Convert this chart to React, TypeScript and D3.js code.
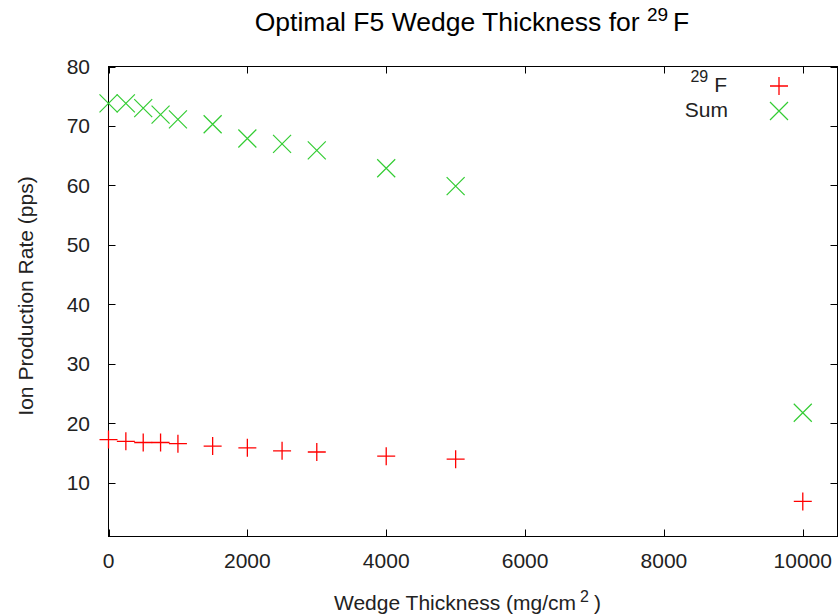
import React from 'react';
import * as d3 from 'd3';

const thickness = [0, 250, 500, 750, 1000, 1500, 2000, 2500, 3000, 4000, 5000, 10000];
const f29Rate = [17.3, 17.0, 16.8, 16.8, 16.6, 16.2, 15.9, 15.4, 15.2, 14.5, 14.0, 6.9];
const sumRate = [73.8, 73.8, 73.0, 71.9, 71.1, 70.3, 67.9, 67.0, 65.9, 62.9, 59.9, 21.8];
const xTicks = [0, 2000, 4000, 6000, 8000, 10000];
const yTicks = [10, 20, 30, 40, 50, 60, 70, 80];

const FONT = '"Liberation Sans", Arial, Helvetica, sans-serif';
const RED = '#ff0000';
const GREEN = '#33cc33';

export default function App() {
  const W = 839, H = 615;
  const left = 108.5, right = 837.5, top = 66.5, bottom = 536.5;
  const x = d3.scaleLinear().domain([0, 10500]).range([left, right]);
  const y = d3.scaleLinear().domain([1, 80]).range([bottom, top]);
  const tl = 7;
  const m = 9;

  const plus = (cx: number, cy: number, c: string, k: string) => (
    <path key={k} d={`M${cx - m},${cy}H${cx + m}M${cx},${cy - m}V${cy + m}`} stroke={c} strokeWidth={1.3} fill="none" />
  );
  const cross = (cx: number, cy: number, c: string, k: string) => (
    <path key={k} d={`M${cx - m},${cy - m}L${cx + m},${cy + m}M${cx - m},${cy + m}L${cx + m},${cy - m}`} stroke={c} strokeWidth={1.2} fill="none" />
  );

  return (
    <svg width={W} height={H} style={{ position: 'absolute', left: 0, top: 0, background: '#fff' }} fontFamily={FONT}>
      <rect x={0} y={0} width={W} height={H} fill="#fff" />
      {/* title */}
      <text x={472} y={31} textAnchor="middle" fontSize={26.5} fill="#000">
        Optimal F5 Wedge Thickness for <tspan fontSize={19} dy={-10}>29</tspan><tspan dy={10} dx={5}>F</tspan>
      </text>
      {/* ticks */}
      {yTicks.map(t => (
        <g key={'y' + t}>
          <line x1={left} x2={left + tl} y1={Math.round(y(t)) + 0.5} y2={Math.round(y(t)) + 0.5} stroke="#000" />
          <line x1={right} x2={right - tl} y1={Math.round(y(t)) + 0.5} y2={Math.round(y(t)) + 0.5} stroke="#000" />
          <text x={90} y={y(t) + 7.5} textAnchor="end" fontSize={21} fill="#222">{t}</text>
        </g>
      ))}
      {xTicks.map(t => (
        <g key={'x' + t}>
          <line x1={Math.round(x(t)) + 0.5} x2={Math.round(x(t)) + 0.5} y1={bottom} y2={bottom - tl} stroke="#000" />
          <line x1={Math.round(x(t)) + 0.5} x2={Math.round(x(t)) + 0.5} y1={top} y2={top + tl} stroke="#000" />
          <text x={x(t)} y={568} textAnchor="middle" fontSize={21} fill="#222">{t}</text>
        </g>
      ))}
      <rect x={left} y={top} width={right - left} height={bottom - top} fill="none" stroke="#000" />
      {/* axis labels */}
      <text transform={`translate(33,296) rotate(-90)`} textAnchor="middle" fontSize={21} fill="#222">Ion Production Rate (pps)</text>
      <text x={334} y={610} fontSize={21} fill="#222">
        Wedge Thickness (mg/cm<tspan dx={4} dy={-8} fontSize={16}>2</tspan><tspan dx={5} dy={8}>)</tspan>
      </text>
      {/* data */}
      {thickness.map((t, i) => plus(x(t), y(f29Rate[i]), RED, 'r' + i))}
      {thickness.map((t, i) => cross(x(t), y(sumRate[i]), GREEN, 'g' + i))}
      {/* legend */}
      <text x={727} y={92} textAnchor="end" fontSize={21} fill="#222">
        <tspan fontSize={16} dy={-10}>29</tspan><tspan dx={6} dy={10}>F</tspan>
      </text>
      {plus(779, 86, RED, 'lr')}
      <text x={728} y={117} textAnchor="end" fontSize={21} fill="#222">Sum</text>
      {cross(779, 111, GREEN, 'lg')}
    </svg>
  );
}
